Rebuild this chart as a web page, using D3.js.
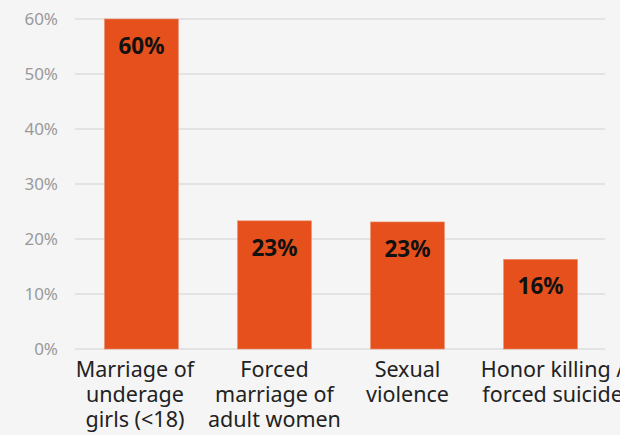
<!DOCTYPE html>
<html><head><meta charset="utf-8">
<script src="https://cdn.jsdelivr.net/npm/d3@7"></script>
<style>
html,body{margin:0;padding:0;background:#f5f5f5;}
svg{display:block;font-family:"Noto Sans","Open Sans",sans-serif;}
</style></head>
<body>
<svg id="chart" width="620" height="435"></svg>
<script>
const categories = [
  ["Marriage of", "underage", "girls (<18)"],
  ["Forced", "marriage of", "adult women"],
  ["Sexual", "violence"],
  ["Honor killing /", "forced suicide"]
];
const values = [60, 23.3, 23.1, 16.3];
const valueLabels = ["60%", "23%", "23%", "16%"];
const yTicks = [0, 10, 20, 30, 40, 50, 60];

const svg = d3.select("#chart");
svg.append("rect").attr("width", 620).attr("height", 435).attr("fill", "#f5f5f5");

const x = d3.scaleBand().domain(d3.range(categories.length)).range([75, 607]).paddingInner(0.445).paddingOuter(0.222);
const y = d3.scaleLinear().domain([0, 60]).range([349, 19]);

// gridlines
svg.append("g").selectAll("line").data(yTicks).join("line")
  .attr("x1", 75).attr("x2", 605)
  .attr("y1", d => y(d)).attr("y2", d => y(d))
  .attr("stroke", "#dcdcdc").attr("stroke-width", 1.5);

// y tick labels
svg.append("g").selectAll("text").data(yTicks).join("text")
  .attr("x", 58).attr("y", d => y(d)).attr("dy", "0.35em")
  .attr("text-anchor", "end").attr("fill", "#9a9a9a").attr("font-size", 17)
  .text(d => d + "%");

// bars
svg.append("g").selectAll("rect").data(values).join("rect")
  .attr("x", (d, i) => x(i)).attr("width", x.bandwidth())
  .attr("y", d => y(d)).attr("height", d => y(0) - y(d))
  .attr("fill", "#e5501c").attr("stroke", "#ec8a66").attr("stroke-width", 0.6);

// value labels
svg.append("g").selectAll("text").data(values).join("text")
  .attr("x", (d, i) => x(i) + x.bandwidth() / 2).attr("y", d => y(d) + 35)
  .attr("text-anchor", "middle").attr("font-weight", "bold").attr("font-size", 22.5)
  .attr("fill", "#111")
  .text((d, i) => valueLabels[i]);

// category labels (outer labels nudged as in the original layout)
const nudge = i => (i === 0 ? -6.5 : i === categories.length - 1 ? 12 : 0);
const cat = svg.append("g").selectAll("text").data(categories).join("text")
  .attr("x", (d, i) => x(i) + x.bandwidth() / 2 + nudge(i))
  .attr("text-anchor", "middle").attr("font-size", 21.5).attr("fill", "#222");
cat.selectAll("tspan").data(d => d).join("tspan")
  .attr("x", function() { return d3.select(this.parentNode).attr("x"); })
  .attr("y", (d, j) => 377 + j * 25)
  .text(d => d);
</script>
</body></html>
